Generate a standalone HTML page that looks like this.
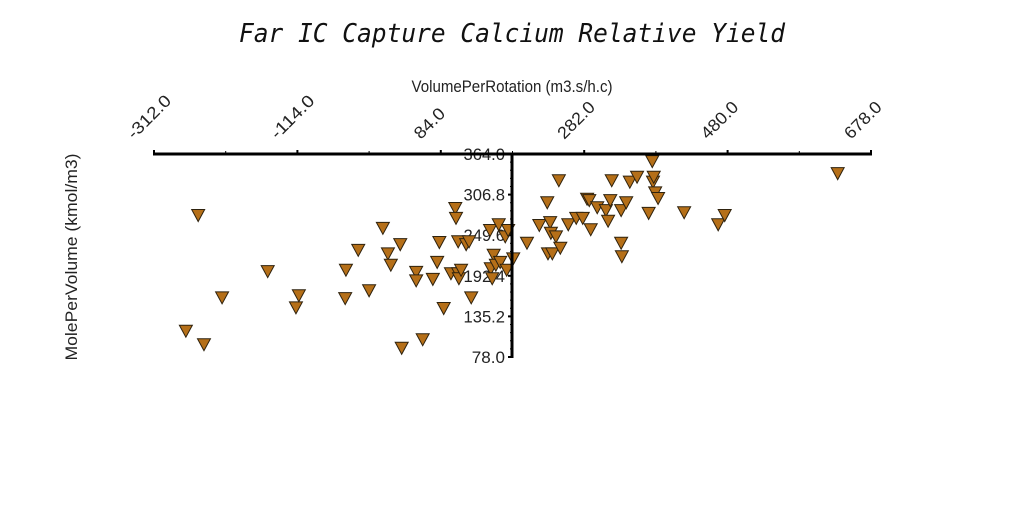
<!DOCTYPE html>
<html><head><meta charset="utf-8"><style>
html,body{margin:0;padding:0;background:#fff;width:1024px;height:512px;overflow:hidden}
svg text{font-family:"Liberation Sans","DejaVu Sans",sans-serif;fill:#222}
</style></head><body>
<svg id="chart" width="1024" height="512" xmlns="http://www.w3.org/2000/svg">
<text x="512" y="42" text-anchor="middle" textLength="546" lengthAdjust="spacingAndGlyphs" style="font-family:'DejaVu Sans Mono','Liberation Mono',monospace;font-style:italic;font-size:26px;fill:#111">Far IC Capture Calcium Relative Yield</text>
<text x="512" y="92" text-anchor="middle" font-size="17" textLength="201" lengthAdjust="spacingAndGlyphs">VolumePerRotation (m3.s/h.c)</text>
<text transform="translate(77,257) rotate(-90)" text-anchor="middle" font-size="17" textLength="207" lengthAdjust="spacingAndGlyphs">MolePerVolume (kmol/m3)</text>
<g id="ticks"></g>
<g id="marks"></g>
<line x1="153" y1="154" x2="872" y2="154" stroke="#000" stroke-width="3"/>
<line x1="512" y1="153" x2="512" y2="358" stroke="#000" stroke-width="3"/>
</svg>
<script>
const xTicks = [-312, -114, 84, 282, 480, 678];
const yTicks = [364.0, 306.8, 249.6, 192.4, 135.2, 78.0];
const xValues = [-251,-268,-243,-218,-155,-116,-112,-48,-47,-30,-15,4,11,15,28,30,50,50,59,73,79,82,88,98,104,105,108,108,109,112,119,123,126,152,153,155,157,160,164,166,173,175,177,184,203,220,231,232,235,236,238,243,247,249,260,271,280,286,289,291,300,312,315,318,320,333,334,333,340,345,355,371,376,377,378,380,384,420,467,476,632];
const yValues = [278,115,96,162,199,148,165,161,201,229,172,260,224,208,237,91,198,186,103,188,212,240,147,196,288,274,241,196,189,201,237,241,162,257,203,189,222,208,265,212,248,201,257,217,239,264,296,224,268,253,224,248,327,232,265,274,274,301,299,258,289,285,270,299,327,239,220,285,296,325,332,281,354,325,332,310,302,282,265,278,337];

const svg = document.getElementById('chart');
const NS = 'http://www.w3.org/2000/svg';
const x0 = 154, x1 = 871, y0 = 154, y1 = 357;
const xMin = -312, xMax = 678, yMin = 78, yMax = 364;
function xs(v){ return x0 + (v - xMin) / (xMax - xMin) * (x1 - x0); }
function ys(v){ return y1 - (v - yMin) / (yMax - yMin) * (y1 - y0); }
const axX = 512;

const tg = document.getElementById('ticks');
xTicks.forEach((t, i) => {
  const px = xs(t);
  const l = document.createElementNS(NS, 'line');
  l.setAttribute('x1', px); l.setAttribute('x2', px);
  l.setAttribute('y1', y0 - 4); l.setAttribute('y2', y0);
  l.setAttribute('stroke', '#000'); l.setAttribute('stroke-width', '2');
  
  
  tg.appendChild(l);
  if (i < xTicks.length - 1) {
    const m = document.createElementNS(NS, 'line');
    const mx = xs((t + xTicks[i+1]) / 2);
    m.setAttribute('x1', mx); m.setAttribute('x2', mx);
    m.setAttribute('y1', y0 - 3); m.setAttribute('y2', y0);
    m.setAttribute('stroke', '#000'); m.setAttribute('stroke-width', '1');
    
    
    tg.appendChild(m);
  }
  const label = t.toFixed(1);
  const tx = document.createElementNS(NS, 'text');
  tx.setAttribute('transform', 'translate(' + (px - 20) + ',' + (y0 - 14) + ') rotate(-45)');
  tx.setAttribute('font-size', '17');
  tx.setAttribute('textLength', String(label.length * 9));
  tx.setAttribute('lengthAdjust', 'spacingAndGlyphs');
  
  
  tx.textContent = label;
  tg.appendChild(tx);
});
yTicks.forEach((t, i) => {
  const py = ys(t);
  const l = document.createElementNS(NS, 'line');
  l.setAttribute('x1', axX - 4); l.setAttribute('x2', axX);
  l.setAttribute('y1', py); l.setAttribute('y2', py);
  l.setAttribute('stroke', '#000'); l.setAttribute('stroke-width', '2');
  
  
  tg.appendChild(l);
  if (i < yTicks.length - 1) {
    for (let k = 1; k < 5; k++) {
      const mv = t + (yTicks[i+1] - t) * k / 5;
      const m = document.createElementNS(NS, 'line');
      m.setAttribute('x1', axX - 2); m.setAttribute('x2', axX);
      m.setAttribute('y1', ys(mv)); m.setAttribute('y2', ys(mv));
      m.setAttribute('stroke', '#000'); m.setAttribute('stroke-width', '1');
      
      
      tg.appendChild(m);
    }
  }
  const label = t.toFixed(1);
  const tx = document.createElementNS(NS, 'text');
  tx.setAttribute('x', axX - 7);
  tx.setAttribute('y', py + 6);
  tx.setAttribute('text-anchor', 'end');
  tx.setAttribute('font-size', '17');
  tx.setAttribute('textLength', String(label.length * 8.3));
  tx.setAttribute('lengthAdjust', 'spacingAndGlyphs');
  
  
  tx.textContent = label;
  tg.appendChild(tx);
});

const mg = document.getElementById('marks');
xValues.forEach((v, i) => {
  const cx = xs(v), cy = ys(yValues[i]);
  const p = document.createElementNS(NS, 'polygon');
  p.setAttribute('points', (cx-6.5)+','+(cy-5.5)+' '+(cx+6.5)+','+(cy-5.5)+' '+cx+','+(cy+6.5));
  p.setAttribute('fill', '#b56f18');
  p.setAttribute('stroke', '#2e220e');
  p.setAttribute('stroke-width', '1');
  
  
  mg.appendChild(p);
});
</script>
</body></html>
